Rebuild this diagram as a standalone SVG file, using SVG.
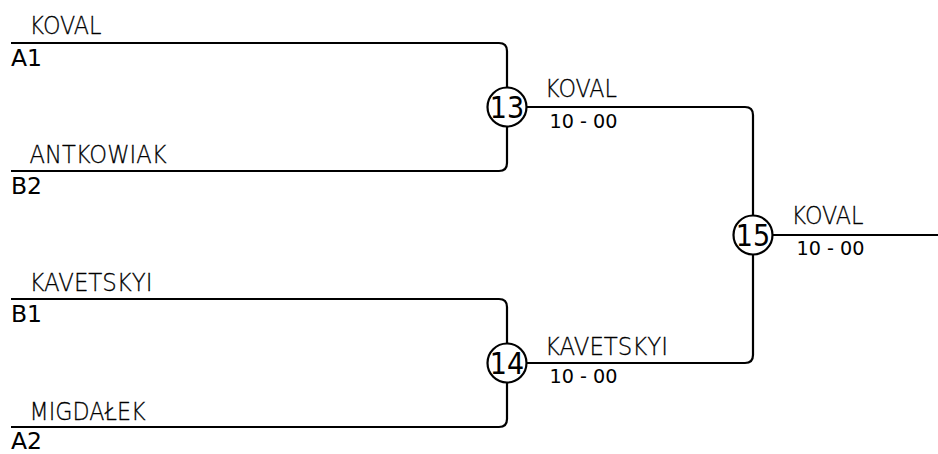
<svg xmlns="http://www.w3.org/2000/svg" width="938" height="454" viewBox="0 0 938 454">
<style>
.ln{fill:none;stroke:#000;stroke-width:2.2}
.nm{font-family:"DejaVu Sans",sans-serif;font-weight:200;font-size:25.5px;fill:#000;stroke:#000;stroke-width:0.3}
.sd{font-family:"DejaVu Sans",sans-serif;font-size:23.5px;fill:#000}
.sc{font-family:"DejaVu Sans",sans-serif;font-size:19.5px;fill:#000}
.cn{font-family:"DejaVu Sans Condensed","DejaVu Sans",sans-serif;font-size:30px;fill:#000;text-anchor:middle}
.ci{fill:#fff;stroke:#000;stroke-width:2.2}
</style>
<rect width="938" height="454" fill="#fff"/>
<g id="connectors">
<path class="ln" d="M11,43 H499 Q507,43 507,51 V163 Q507,171 499,171 H11"/>
<path class="ln" d="M11,299 H499 Q507,299 507,307 V419 Q507,427 499,427 H11"/>
<path class="ln" d="M507,107 H745 Q753,107 753,115 V355 Q753,363 745,363 H507"/>
<path class="ln" d="M753,235 H938"/>
</g>
<g id="entry-a1"><text class="nm" x="29.5" y="34" textLength="72" lengthAdjust="spacingAndGlyphs">KOVAL</text><text class="sd" x="11" y="66">A1</text></g>
<g id="entry-b2"><text class="nm" x="29.5" y="163" textLength="137" lengthAdjust="spacingAndGlyphs">ANTKOWIAK</text><text class="sd" x="11" y="194">B2</text></g>
<g id="entry-b1"><text class="nm" x="29.5" y="291" textLength="123" lengthAdjust="spacingAndGlyphs">KAVETSKYI</text><text class="sd" x="11" y="322">B1</text></g>
<g id="entry-a2"><text class="nm" x="29.5" y="420" textLength="116" lengthAdjust="spacingAndGlyphs">MIGDAŁEK</text><text class="sd" x="11" y="449">A2</text></g>
<g id="match-13"><circle class="ci" cx="507" cy="107" r="19.5"/><text class="cn" x="507" y="118">13</text><text class="nm" x="545" y="97" textLength="72" lengthAdjust="spacingAndGlyphs">KOVAL</text><text class="sc" x="549.5" y="128" textLength="68" lengthAdjust="spacingAndGlyphs">10 - 00</text></g>
<g id="match-14"><circle class="ci" cx="507" cy="363" r="19.5"/><text class="cn" x="507" y="374">14</text><text class="nm" x="545" y="355" textLength="123" lengthAdjust="spacingAndGlyphs">KAVETSKYI</text><text class="sc" x="549.5" y="383" textLength="68" lengthAdjust="spacingAndGlyphs">10 - 00</text></g>
<g id="match-15"><circle class="ci" cx="753" cy="235" r="19.5"/><text class="cn" x="753" y="246">15</text><text class="nm" x="791.5" y="224" textLength="72" lengthAdjust="spacingAndGlyphs">KOVAL</text><text class="sc" x="796.5" y="255" textLength="68" lengthAdjust="spacingAndGlyphs">10 - 00</text></g>
</svg>
